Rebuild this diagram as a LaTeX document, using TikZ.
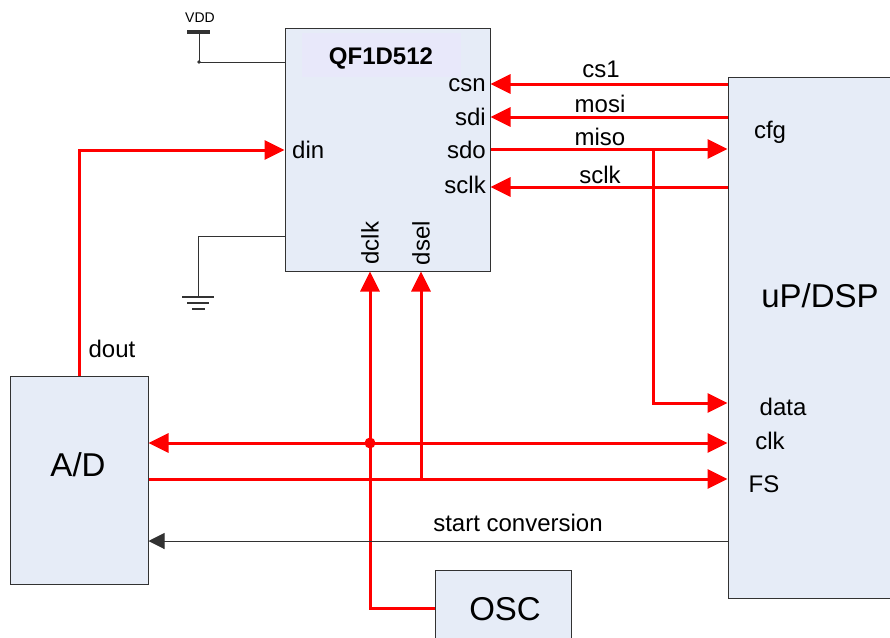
\documentclass[tikz,border=0pt]{standalone}
\usepackage{fontspec}
\setmainfont{Liberation Sans}
\usetikzlibrary{arrows.meta}
\definecolor{boxfill}{RGB}{230,236,247}
\definecolor{titlefill}{RGB}{232,232,250}
\definecolor{wire}{RGB}{50,50,50}
\begin{document}
\begin{tikzpicture}[x=1pt,y=-1pt,
  blk/.style={draw=wire,line width=1pt,fill=boxfill,inner sep=0pt},
  lbl/.style={inner sep=0pt,font=\fontsize{24}{26}\selectfont},
  big/.style={inner sep=0pt,font=\fontsize{33}{36}\selectfont},
  redline/.style={draw=red,line width=3pt},
  redarrow/.style={redline,-{Triangle[length=20pt,width=19pt]}},
  redboth/.style={redline,{Triangle[length=20pt,width=19pt]}-{Triangle[length=20pt,width=19pt]}},
  blackarrow/.style={draw=wire,line width=1pt,-{Triangle[length=16pt,width=16pt]}},
  thin/.style={draw=wire,line width=1pt}]
\useasboundingbox (0,0) rectangle (890,637);
% blocks
\node[blk,minimum width=205,minimum height=243] (chip) at (387.5,149.5) {};
\node[fill=titlefill,minimum width=159,minimum height=44,inner sep=0pt] (title) at (381,55) {};
\node[inner sep=0pt,font=\fontsize{24}{26}\selectfont\bfseries] (titletext) at (381,58) {QF1D512};
\node[blk,minimum width=163,minimum height=521] (uP) at (809.5,337.5) {};
\node[blk,minimum width=138,minimum height=208] (ad) at (79,480) {};
\node[blk,minimum width=136,minimum height=76] (osc) at (503,608) {};
\node[big] (uPtext) at (820,296) {uP/DSP};
\node[big] (adtext) at (78,465) {A/D};
\node[big] (osctext) at (505,609) {OSC};
% chip pins
\node[lbl,anchor=east] (csn) at (486,85) {csn};
\node[lbl,anchor=east] (sdi) at (486,117) {sdi};
\node[lbl,anchor=east] (sdo) at (486,150) {sdo};
\node[lbl,anchor=east] (sclkp) at (486,185) {sclk};
\node[lbl,anchor=west] (din) at (292,150) {din};
\node[lbl,rotate=90] (dclk) at (370,243) {dclk};
\node[lbl,rotate=90] (dsel) at (421,243) {dsel};
% uP pins
\node[lbl] (cfg) at (770,132) {cfg};
\node[lbl] (data) at (783,407) {data};
\node[lbl] (clk) at (770,441) {clk};
\node[lbl] (fs) at (764,484) {FS};
% wire labels
\node[lbl] (cs1) at (601,69) {cs1};
\node[lbl] (mosi) at (600,104) {mosi};
\node[lbl] (miso) at (600,137) {miso};
\node[lbl] (sclkw) at (600,175) {sclk};
\node[lbl] (dout) at (112,349) {dout};
\node[lbl] (startc) at (518,523) {start conversion};
\node[inner sep=0pt,font=\fontsize{14}{16}\selectfont] (vdd) at (200,18) {VDD};
% SPI wires
\draw[redarrow] (uP.west |- 0,84) -- (chip.east |- 0,84);
\draw[redarrow] (uP.west |- 0,117) -- (chip.east |- 0,117);
\draw[redarrow] (chip.east |- 0,149) -- (uP.west |- 0,149);
\draw[redarrow] (uP.west |- 0,187) -- (chip.east |- 0,187);
\coordinate (br) at (653,149);
\draw[redarrow] (br) |- (uP.west |- 0,403);
% din
\draw[redarrow] (ad.north) |- (chip.west |- 0,150);
% clk, FS
\draw[redboth] (ad.east |- 0,443) -- (uP.west |- 0,443);
\draw[redarrow] (ad.east |- 0,479) -- (uP.west |- 0,479);
\coordinate (fsbr) at (421,479);
\draw[redarrow] (fsbr) -- (chip.south -| fsbr);
\draw[redarrow] (osc.west) -| (chip.south -| 370,0);
\fill[red] (370,443) circle (5.5);
% start conversion
\draw[blackarrow] (uP.west |- 0,541) -- (ad.east |- 0,541);
% VDD
\draw[wire,line width=4pt] (187,32) -- (210,32);
\draw[thin] (199,32) -- (199,62) -- (chip.west |- 0,62);
\fill[wire] (199,62) circle (1.8);
% ground
\draw[thin] (chip.west |- 0,236) -| (198,297);
\draw[wire,line width=1.5pt] (182,297) -- (214,297);
\draw[wire,line width=1.5pt] (187,303) -- (209,303);
\draw[wire,line width=1.5pt] (192,309) -- (205,309);
\end{tikzpicture}
\end{document}
